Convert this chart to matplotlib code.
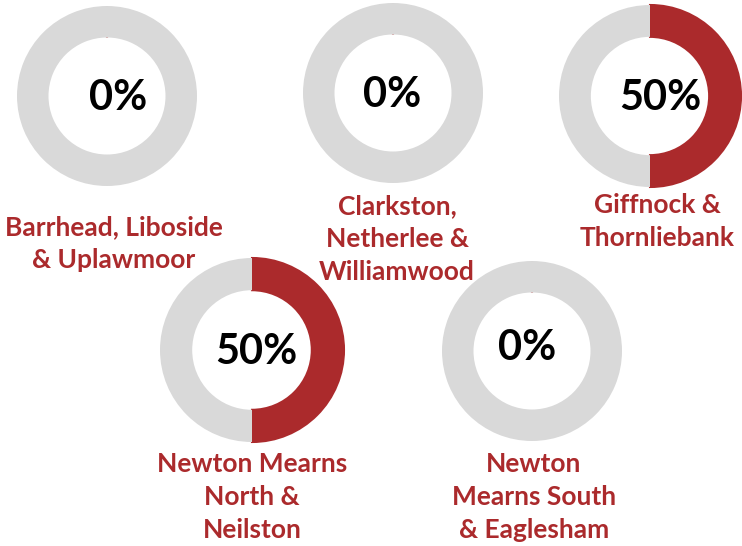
import matplotlib
matplotlib.use("Agg")
import matplotlib.pyplot as plt

# share of each area, in percent
areas = ["Barrhead, Liboside\n& Uplawmoor",
         "Clarkston,\nNetherlee &\nWilliamwood",
         "Giffnock &\nThornliebank",
         "Newton Mearns\nNorth &\nNeilston",
         "Newton\nMearns South\n& Eaglesham"]
shares = [0, 0, 50, 50, 0]

# layout in pixels (x, y from top): donut centre, radius, value text, label top
W, H = 742, 546
centres = [(107, 96), (393, 93), (650, 96), (252, 350), (532, 351)]
radii = [90, 90, 91, 92, 90]
value_pos = [(118, 98), (392, 95), (660, 98), (256, 352), (527, 348)]
label_pos = [(114, 215), (397, 194), (657, 193), (252, 452), (534, 452)]

RED = "#AB2A2C"
GREY = "#D9D9D9"
FONT = "Lato"

fig = plt.figure(figsize=(W / 100, H / 100), dpi=100)
ax = fig.add_axes([0, 0, 1, 1])

for name, pct, (cx, cy), r, (vx, vy), (lx, ly) in zip(
        areas, shares, centres, radii, value_pos, label_pos):
    wedges, _ = ax.pie([pct, 100 - pct], colors=[RED, GREY],
                       center=(cx, H - cy), radius=r,
                       startangle=90, counterclock=False,
                       wedgeprops=dict(width=r * 0.35, linewidth=0))
    wedges[0].set_edgecolor(RED)
    wedges[0].set_linewidth(1.5)
    ax.text(vx, H - vy, f"{pct}%", ha="center", va="center",
            fontsize=30, fontweight="bold", family=FONT, color="black")
    ax.text(lx, H - ly, name, ha="center", va="top", linespacing=1.45,
            fontsize=19, fontweight="bold", family=FONT, color=RED)

ax.set_xlim(0, W)
ax.set_ylim(0, H)
ax.set_aspect("equal")
ax.axis("off")
fig.savefig("out.png", dpi=100)
